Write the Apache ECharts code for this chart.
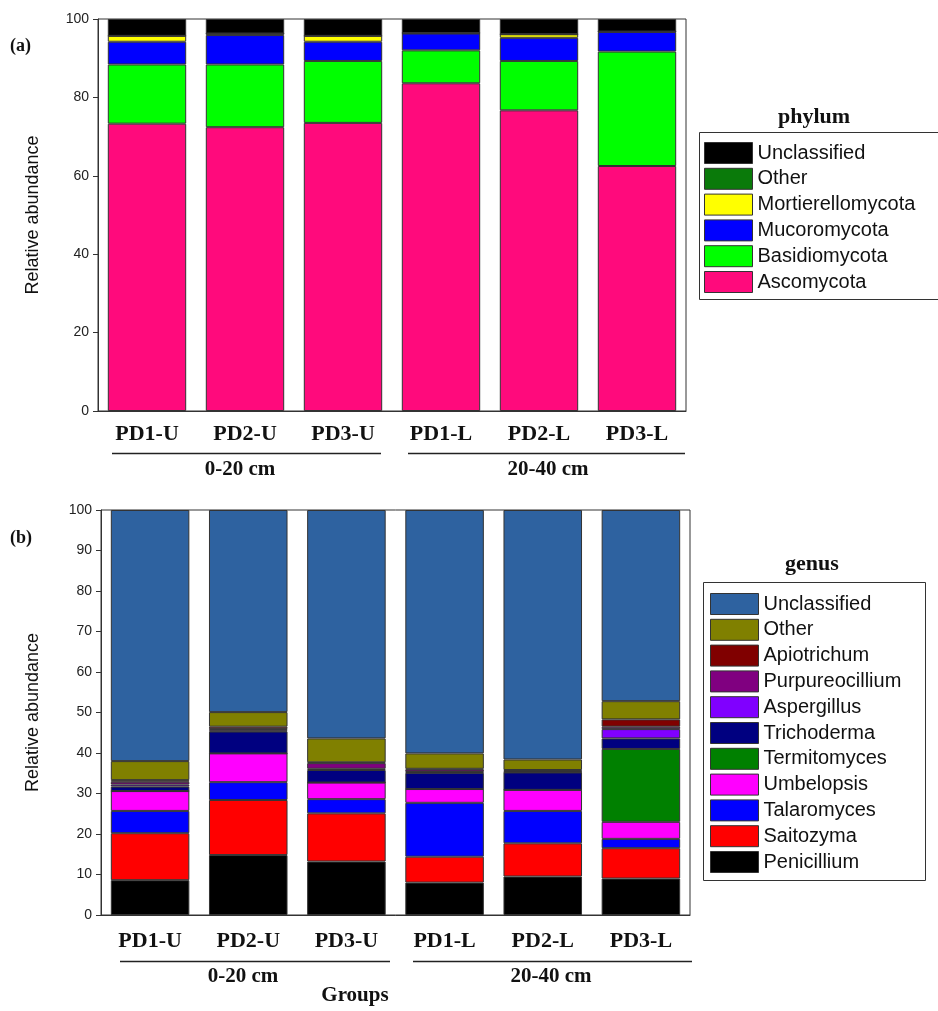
<!DOCTYPE html>
<html><head><meta charset="utf-8">
<script src="https://cdn.jsdelivr.net/npm/echarts@6/dist/echarts.min.js"></script>
<style>html,body{margin:0;padding:0;background:#fff}#c{width:938px;height:1011px}</style>
</head><body><div id="c"></div>
<script>
// ---- data ----
const groups = ['PD1-U', 'PD2-U', 'PD3-U', 'PD1-L', 'PD2-L', 'PD3-L'];
const depthLabels = ['0-20 cm', '20-40 cm'];

// phylum (panel a), stacked bottom -> top
const ascomycota       = [73.3, 72.4, 73.5, 83.6, 76.7, 62.5];
const basidiomycota    = [15.1, 16.0, 15.8, 8.4, 12.6, 29.2];
const mucoromycota     = [5.8, 7.5, 4.9, 4.3, 5.9, 5.0];
const mortierellomycota= [1.5, 0.4, 1.5, 0.1, 0.9, 0.1];
const phylumOther      = [0, 0, 0, 0, 0, 0];
const phylumUnclass    = [4.3, 3.7, 4.3, 3.6, 3.9, 3.2];

// genus (panel b), stacked bottom -> top
const penicillium     = [8.6, 14.8, 13.2, 8.0, 9.5, 9.0];
const saitozyma       = [11.6, 13.6, 11.9, 6.4, 8.2, 7.5];
const talaromyces     = [5.5, 4.4, 3.5, 13.3, 8.0, 2.3];
const umbelopsis      = [4.9, 7.1, 4.1, 3.4, 5.2, 4.2];
const termitomyces    = [0, 0, 0, 0, 0, 18.0];
const trichoderma     = [1.1, 5.4, 3.1, 4.0, 4.3, 2.6];
const aspergillus     = [0.5, 0.2, 0.3, 0.2, 0.1, 2.3];
const purpureocillium = [0.7, 0.4, 1.4, 0.6, 0.3, 0.6];
const apiotrichum     = [0.4, 0.6, 0.2, 0.2, 0.2, 1.8];
const genusOther      = [4.7, 3.6, 5.9, 3.8, 2.6, 4.5];
const genusUnclass    = [62.0, 49.9, 56.4, 60.1, 61.6, 47.2];

const phylumNames = ['Ascomycota', 'Basidiomycota', 'Mucoromycota', 'Mortierellomycota', 'Other', 'Unclassified'];
const phylumData = [ascomycota, basidiomycota, mucoromycota, mortierellomycota, phylumOther, phylumUnclass];
const phylumColors = ['#FF0A7C', '#00FF00', '#0000FF', '#FFFF00', '#0A7A0A', '#000000'];

const genusNames = ['Penicillium', 'Saitozyma', 'Talaromyces', 'Umbelopsis', 'Termitomyces', 'Trichoderma',
  'Aspergillus', 'Purpureocillium', 'Apiotrichum', 'Other', 'Unclassified'];
const genusData = [penicillium, saitozyma, talaromyces, umbelopsis, termitomyces, trichoderma,
  aspergillus, purpureocillium, apiotrichum, genusOther, genusUnclass];
const genusColors = ['#000000', '#FF0000', '#0000FF', '#FF00FF', '#008000', '#000080',
  '#8000FF', '#800080', '#800000', '#808000', '#2E62A0'];

// ---- chart ----
const serif = '"Liberation Serif", "Times New Roman", serif';
const sans = '"Liberation Sans", Arial, sans-serif';

const series = [];
phylumNames.forEach((n, i) => series.push({
  name: n, type: 'bar', stack: 'a', xAxisIndex: 0, yAxisIndex: 0, barWidth: '80%',
  data: phylumData[i],
  itemStyle: { color: phylumColors[i], borderColor: '#333', borderWidth: 1 }
}));
genusNames.forEach((n, i) => series.push({
  name: n, type: 'bar', stack: 'b', xAxisIndex: 1, yAxisIndex: 1, barWidth: '80%',
  data: genusData[i],
  itemStyle: { color: genusColors[i], borderColor: '#333', borderWidth: 1 }
}));

function xAx(gi, margin) {
  return {
    type: 'category', gridIndex: gi, data: groups,
    axisLine: { lineStyle: { color: '#333' } },
    axisTick: { alignWithLabel: true, length: 5, lineStyle: { color: '#333' } },
    axisLabel: { fontFamily: serif, fontWeight: 'bold', fontSize: 22, color: '#111', margin: margin }
  };
}
function yAx(gi, interval, gap) {
  return {
    type: 'value', gridIndex: gi, min: 0, max: 100, interval: interval,
    name: 'Relative abundance', nameLocation: 'middle', nameGap: gap,
    nameTextStyle: { fontFamily: sans, fontSize: 18, color: '#111' },
    axisLine: { show: true, lineStyle: { color: '#333' } },
    axisTick: { show: true, length: 5, lineStyle: { color: '#333' } },
    axisLabel: { fontFamily: sans, fontSize: 14, color: '#222', margin: 9 },
    splitLine: { show: false }
  };
}

function legendItems(names, colors) {
  const out = [];
  for (let i = names.length - 1; i >= 0; i--) {
    out.push({ name: names[i], itemStyle: { color: colors[i], borderColor: '#333', borderWidth: 1 } });
  }
  return out;
}

const legendText = { fontFamily: sans, fontSize: 20, color: '#111', lineHeight: 20 };

const option = {
  animation: false,
  backgroundColor: '#fff',
  grid: [
    { left: 98, top: 19, width: 588, height: 392, show: true, borderColor: '#333', borderWidth: 1, backgroundColor: 'transparent' },
    { left: 101, top: 510, width: 589, height: 405, show: true, borderColor: '#333', borderWidth: 1, backgroundColor: 'transparent' }
  ],
  xAxis: [xAx(0, 12), xAx(1, 15)],
  yAxis: [yAx(0, 20, 56), yAx(1, 10, 59)],
  legend: [
    { orient: 'vertical', left: 704, top: 142, itemWidth: 48, itemHeight: 21, itemGap: 3.8, padding: 0,
      selectedMode: false, icon: 'rect', data: legendItems(phylumNames, phylumColors), textStyle: legendText },
    { orient: 'vertical', left: 710, top: 593, itemWidth: 48, itemHeight: 21, itemGap: 3.8, padding: 0,
      selectedMode: false, icon: 'rect', data: legendItems(genusNames, genusColors), textStyle: legendText }
  ],
  graphic: [
    { type: 'rect', shape: { x: 699.5, y: 132.5, width: 260, height: 167 }, style: { fill: 'none', stroke: '#333', lineWidth: 1 } },
    { type: 'rect', shape: { x: 703.5, y: 582.5, width: 222, height: 298 }, style: { fill: 'none', stroke: '#333', lineWidth: 1 } },
    { type: 'text', x: 814, y: 117, style: { text: 'phylum', font: 'bold 22px ' + serif, fill: '#111', textAlign: 'center', textVerticalAlign: 'middle' } },
    { type: 'text', x: 812, y: 564, style: { text: 'genus', font: 'bold 22px ' + serif, fill: '#111', textAlign: 'center', textVerticalAlign: 'middle' } },
    { type: 'text', x: 10, y: 46, style: { text: '(a)', font: 'bold 18px ' + serif, fill: '#111', textVerticalAlign: 'middle' } },
    { type: 'text', x: 10, y: 538, style: { text: '(b)', font: 'bold 18px ' + serif, fill: '#111', textVerticalAlign: 'middle' } },
    // group lines & labels (top)
    { type: 'line', shape: { x1: 112, y1: 453.5, x2: 381, y2: 453.5 }, style: { stroke: '#222', lineWidth: 1.3 } },
    { type: 'line', shape: { x1: 408, y1: 453.5, x2: 685, y2: 453.5 }, style: { stroke: '#222', lineWidth: 1.3 } },
    { type: 'text', x: 240, y: 470, style: { text: depthLabels[0], font: 'bold 21px ' + serif, fill: '#111', textAlign: 'center', textVerticalAlign: 'middle' } },
    { type: 'text', x: 548, y: 470, style: { text: depthLabels[1], font: 'bold 21px ' + serif, fill: '#111', textAlign: 'center', textVerticalAlign: 'middle' } },
    // group lines & labels (bottom)
    { type: 'line', shape: { x1: 120, y1: 961.5, x2: 390, y2: 961.5 }, style: { stroke: '#222', lineWidth: 1.3 } },
    { type: 'line', shape: { x1: 413, y1: 961.5, x2: 692, y2: 961.5 }, style: { stroke: '#222', lineWidth: 1.3 } },
    { type: 'text', x: 243, y: 977, style: { text: depthLabels[0], font: 'bold 21px ' + serif, fill: '#111', textAlign: 'center', textVerticalAlign: 'middle' } },
    { type: 'text', x: 551, y: 977, style: { text: depthLabels[1], font: 'bold 21px ' + serif, fill: '#111', textAlign: 'center', textVerticalAlign: 'middle' } },
    { type: 'text', x: 355, y: 996, style: { text: 'Groups', font: 'bold 21px ' + serif, fill: '#111', textAlign: 'center', textVerticalAlign: 'middle' } }
  ],
  series: series
};

const chart = echarts.init(document.getElementById('c'), null, { renderer: 'canvas' });
chart.setOption(option);
</script>
</body></html>
